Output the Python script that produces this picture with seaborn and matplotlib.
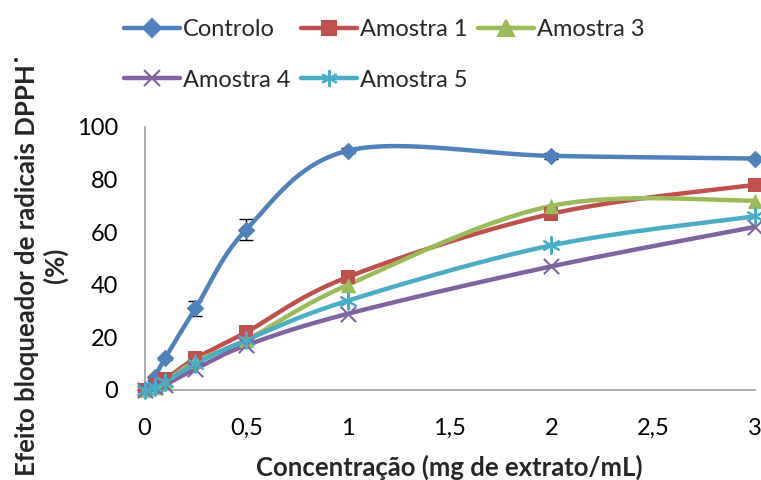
import numpy as np
import pandas as pd
import matplotlib
matplotlib.use("Agg")
import matplotlib.pyplot as plt
import seaborn as sns
from matplotlib.lines import Line2D

conc = [0, 0.05, 0.1, 0.25, 0.5, 1, 2, 3]
controlo = [0, 5, 12, 31, 61, 91, 89, 88]
controlo_err = [0, 0.5, 0.5, 3, 4, 1, 1, 0.5]
amostra1 = [0, 2, 4, 12, 22, 43, 67, 78]
amostra3 = [0, 1, 3, 11, 19, 40, 70, 72]
amostra4 = [0, 1, 2, 8, 17, 29, 47, 62]
amostra5 = [0, 1, 3, 10, 19, 34, 55, 66]
x_ticks = [0, 0.5, 1, 1.5, 2, 2.5, 3]
x_ticklabels = ["0", "0,5", "1", "1,5", "2", "2,5", "3"]
y_ticks = [0, 20, 40, 60, 80, 100]

series = {
    "Controlo": controlo,
    "Amostra 1": amostra1,
    "Amostra 3": amostra3,
    "Amostra 4": amostra4,
    "Amostra 5": amostra5,
}
colors = {
    "Controlo": "#4F81BD",
    "Amostra 1": "#C0504D",
    "Amostra 3": "#9BBB59",
    "Amostra 4": "#8064A2",
    "Amostra 5": "#4BACC6",
}
markers = {
    "Controlo": "D",
    "Amostra 1": "s",
    "Amostra 3": "^",
    "Amostra 4": "x",
    "Amostra 5": (6, 2, 0),
}
msizes = {"Controlo": 9, "Amostra 1": 10, "Amostra 3": 11, "Amostra 4": 11, "Amostra 5": 12}


def smooth(xs, ys, n=30):
    # Bezier smoothing like Excel's smoothed line
    xs = np.asarray(xs, float); ys = np.asarray(ys, float)
    P = np.column_stack([xs, ys])
    out = []
    for i in range(len(P) - 1):
        p0 = P[i - 1] if i > 0 else P[i]
        p1 = P[i]
        p2 = P[i + 1]
        p3 = P[i + 2] if i + 2 < len(P) else P[i + 1]
        c1 = p1 + (p2 - p0) / 6
        c2 = p2 - (p3 - p1) / 6
        t = np.linspace(0, 1, n)[:, None]
        b = ((1 - t) ** 3) * p1 + 3 * ((1 - t) ** 2) * t * c1 + 3 * (1 - t) * t ** 2 * c2 + t ** 3 * p2
        out.append(b if i == 0 else b[1:])
    arr = np.vstack(out)
    return arr[:, 0], arr[:, 1]


sns.set_theme(style="white")
plt.rcParams["font.family"] = ["Lato", "DejaVu Sans"]

fig = plt.figure(figsize=(7.61, 4.80), dpi=100)
ax = fig.add_axes([0.19, 0.1875, 0.802, 0.548])

rows = []
for name, vals in series.items():
    sx, sy = smooth(conc, vals)
    for a, b in zip(sx, sy):
        rows.append({"x": a, "y": b, "serie": name})
curve_df = pd.DataFrame(rows)

ax.errorbar(conc, controlo, yerr=controlo_err, fmt="none", ecolor="black",
            elinewidth=1, capsize=5, capthick=1, zorder=1)

for name in series:
    d = curve_df[curve_df["serie"] == name]
    sns.lineplot(data=d, x="x", y="y", sort=False, estimator=None, ax=ax,
                 color=colors[name], linewidth=3.2, zorder=2, legend=False)

for name, vals in series.items():
    pts = pd.DataFrame({"x": conc, "y": vals})
    m = markers[name]
    if m == "x" or isinstance(m, tuple):
        sns.scatterplot(data=pts, x="x", y="y", ax=ax, marker=m, s=msizes[name] ** 2,
                        color=colors[name], linewidth=1.5, zorder=3, legend=False, clip_on=False)
    else:
        sns.scatterplot(data=pts, x="x", y="y", ax=ax, marker=m, s=msizes[name] ** 2,
                        color=colors[name], edgecolor=colors[name], linewidth=0,
                        zorder=3, legend=False, clip_on=False)

ax.set_xlim(0, 3)
ax.set_ylim(0, 100)
ax.set_xticks(x_ticks)
ax.set_xticklabels(x_ticklabels)
ax.set_yticks(y_ticks)
ax.tick_params(axis="both", labelsize=17, colors="black", length=0)
ax.tick_params(axis="x", pad=20)
ax.tick_params(axis="y", pad=19)
for s in ["top", "right"]:
    ax.spines[s].set_visible(False)
for s in ["left", "bottom"]:
    ax.spines[s].set_color("#A0A0A0")
    ax.spines[s].set_linewidth(1.2)

ax.set_xlabel("Concentração (mg de extrato/mL)", fontsize=18.5, fontweight="bold")
ax.xaxis.set_label_coords(0.5, -0.245)
ax.set_ylabel("Efeito bloqueador de radicais DPPH˙\n(%)", fontsize=18.5, fontweight="bold",
              linespacing=1.2)
ax.yaxis.set_label_coords(-0.125, 0.475)

order = ["Controlo", "Amostra 4", "Amostra 1", "Amostra 5", "Amostra 3"]
handles = []
for name in order:
    m = markers[name]
    handles.append(Line2D([0], [0], color=colors[name], linewidth=3.2, marker=m,
                          markersize=msizes[name], markerfacecolor=colors[name],
                          markeredgecolor=colors[name], markeredgewidth=1.5))
fig.legend(handles, order, ncol=3, loc="upper left", bbox_to_anchor=(124 / 761, 1 - 19 / 480),
           frameon=False, fontsize=17, handlelength=2.37, handletextpad=0.13,
           columnspacing=0.45, labelspacing=1.25, borderaxespad=0, borderpad=0)

fig.savefig("out.png", dpi=100)
